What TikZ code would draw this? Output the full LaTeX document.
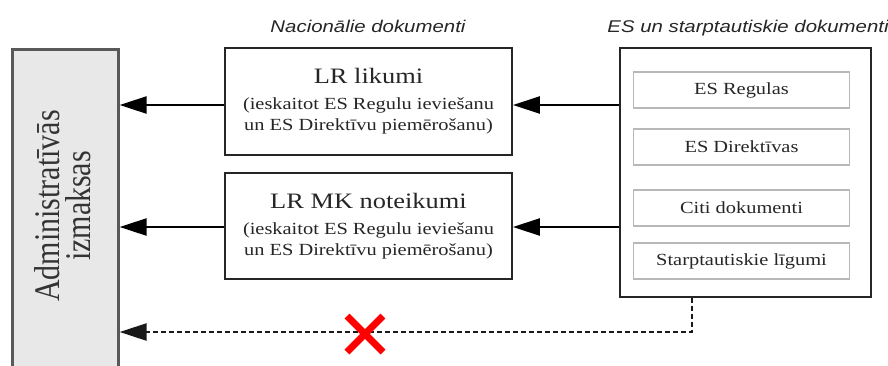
\documentclass[tikz,border=0pt]{standalone}
\usepackage{fontspec}
\setmainfont{Liberation Serif}
\newfontfamily\hdrfont{Liberation Sans}
\usetikzlibrary{arrows.meta}
\newcommand{\hs}[1]{\scalebox{1.2}[1]{#1}}
\newcommand{\vsc}[1]{\scalebox{1}[1.2]{#1}}
\begin{document}
\begin{tikzpicture}[x=1pt,y=-1pt,
  box/.style={draw=black!85, line width=1.8pt, fill=white, inner sep=0pt, text=black!85},
  inbox/.style={draw=black!28, line width=1.3pt, fill=white, minimum width=216pt, minimum height=36pt, inner sep=0pt, text=black!85, font=\fontsize{17}{20}\selectfont},
  hdr/.style={font=\hdrfont\itshape\fontsize{17}{20}\selectfont, text=black!85, anchor=base, inner sep=0pt},
  arr/.style={line width=2.3pt, draw=black, -{Triangle[length=27pt,width=17pt]}},
  darr/.style={line width=2.3pt, draw=black!90, dash pattern=on 5pt off 3pt, -{Triangle[length=27pt,width=17pt]}},
]
\useasboundingbox (0,0) rectangle (888,365);
\fill[white] (0,0) rectangle (888,365);

% left gray box
\node[draw=black!65, fill=black!9, line width=2.6pt, minimum width=106pt, minimum height=340pt, inner sep=0pt, anchor=north west] (adm) at (11,48) {};
\node[rotate=90, align=center, text=black!80, font=\fontsize{30}{31}\selectfont] (admtxt) at (63,206) {\vsc{Administratīvās}\\\vsc{izmaksas}};

% headers
\node[hdr] (h1) at (368,32) {\hs{Nacionālie dokumenti}};
\node[hdr] (h2) at (748,32) {\hs{ES un starptautiskie dokumenti}};

% national boxes
\node[box, minimum width=287pt, minimum height=107pt, align=center, font=\fontsize{17}{21}\selectfont] (b1) at (368.5,101.5)
  {{\fontsize{22}{26}\selectfont\hs{LR likumi}}\\[5pt]\hs{(ieskaitot ES Regulu ieviešanu}\\\hs{un ES Direktīvu piemērošanu)}};
\node[box, minimum width=287pt, minimum height=106pt, align=center, font=\fontsize{17}{21}\selectfont] (b2) at (368.5,226)
  {{\fontsize{22}{26}\selectfont\hs{LR MK noteikumi}}\\[5pt]\hs{(ieskaitot ES Regulu ieviešanu}\\\hs{un ES Direktīvu piemērošanu)}};

% EU box
\node[box, minimum width=251pt, minimum height=249pt] (rbox) at (745.5,172.5) {};
\node[inbox] (i1) at (741.5,90) {\hs{ES Regulas}};
\node[inbox] (i2) at (741.5,147) {\hs{ES Direktīvas}};
\node[inbox] (i3) at (741.5,208) {\hs{Citi dokumenti}};
\node[inbox] (i4) at (741.5,261) {\hs{Starptautiskie līgumi}};

% connectors
\coordinate (y1) at (0,105);
\coordinate (y2) at (0,227);
\coordinate (d1) at (692,332);
\draw[arr] (rbox.west |- y1) -- (b1.east |- y1);
\draw[arr] (b1.west |- y1) -- (adm.east |- y1);
\draw[arr] (rbox.west |- y2) -- (b2.east |- y2);
\draw[arr] (b2.west |- y2) -- (adm.east |- y2);
\draw[darr] (rbox.south -| d1) |- (adm.east |- d1);

% red cross
\draw[red, line width=7pt] (347,316) -- (383,352) (347,352) -- (383,316);
\end{tikzpicture}
\end{document}
